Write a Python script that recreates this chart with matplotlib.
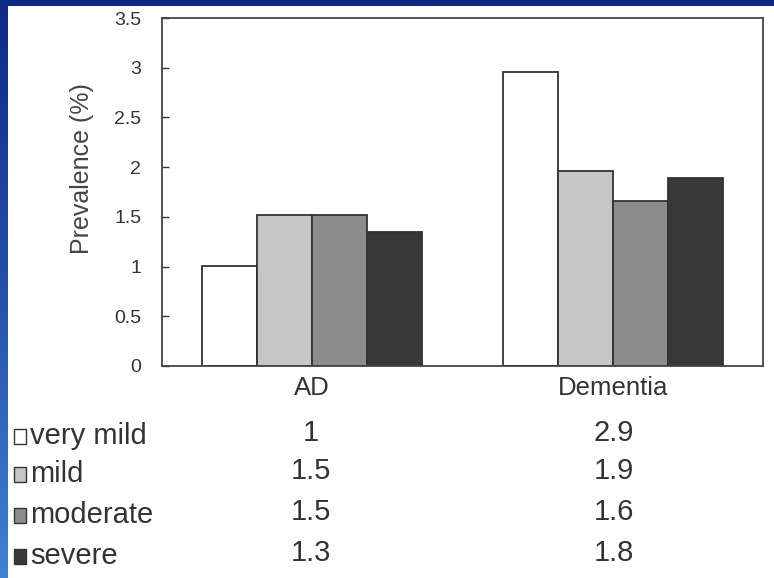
import numpy as np
import matplotlib
matplotlib.use("Agg")
import matplotlib.pyplot as plt
from matplotlib.patches import Rectangle
from matplotlib.colors import LinearSegmentedColormap

plt.rcParams['font.family'] = ['Liberation Sans', 'DejaVu Sans']

# data
groups = ['AD', 'Dementia']
severity = ['very mild', 'mild', 'moderate', 'severe']
# bar heights
ad_bars = [1.01, 1.52, 1.52, 1.35]
dem_bars = [2.96, 1.96, 1.66, 1.89]
# values printed in the table below the chart
ad_table = ['1', '1.5', '1.5', '1.3']
dem_table = ['2.9', '1.9', '1.6', '1.8']
yticks = [0, 0.5, 1, 1.5, 2, 2.5, 3, 3.5]
ytick_labels = ['0', '0.5', '1', '1.5', '2', '2.5', '3', '3.5']

fills = ['white', '#c6c6c6', '#8c8c8c', '#383838']

W, H = 774, 578
fig = plt.figure(figsize=(W / 100, H / 100), dpi=100)

# slide background: blue gradient frame, white page
bg = fig.add_axes([0, 0, 1, 1], zorder=-10)
cmap = LinearSegmentedColormap.from_list('slide', ['#0e2a84', '#2452a8', '#3f82d2'])
bg.imshow(np.linspace(0, 1, 256).reshape(-1, 1), aspect='auto', cmap=cmap,
          extent=[0, 1, 0, 1], origin='upper')
bg.add_patch(Rectangle((8 / W, 0), 1, 1 - 6 / H, facecolor='white', edgecolor='none'))
bg.set_xlim(0, 1)
bg.set_ylim(0, 1)
bg.axis('off')

ax = fig.add_axes([162 / W, 1 - 366 / H, (763 - 162) / W, (366 - 18) / H])
ax.set_facecolor('white')

x = np.arange(len(groups))
width = 0.183
for i, name in enumerate(severity):
    vals = [ad_bars[i], dem_bars[i]]
    ax.bar(x + (i - 1.5) * width, vals, width, color=fills[i],
           edgecolor='#333333', linewidth=1.3, label=name)

ax.set_xlim(-0.5, 1.5)
ax.set_ylim(0, 3.5)
ax.set_yticks(yticks)
ax.set_yticklabels(ytick_labels)
ax.tick_params(axis='y', direction='in', length=5, width=1, pad=15,
               labelsize=14, colors='#333333')
ax.set_xticks(x)
ax.set_xticklabels(groups)
ax.tick_params(axis='x', length=0, pad=7, labelsize=18.5, colors='#333333')
for sp in ax.spines.values():
    sp.set_color('#444444')
    sp.set_linewidth(1.3)
ax.set_ylabel('Prevalence (%)', fontsize=18, color='#444444')
ax.yaxis.set_label_coords(-0.113, 0.566)

# data table under the chart
row_y = [436, 474, 515, 556]
for i, name in enumerate(severity):
    yf = 1 - row_y[i] / H
    fig.patches.append(Rectangle((14 / W, yf - 8 / H), 12 / W, 15 / H,
                                 transform=fig.transFigure, facecolor=fills[i],
                                 edgecolor='#333333', linewidth=1.0))
    fig.text(30 / W, yf, name, fontsize=21, color='#333333', va='center', ha='left')
    fig.text(311 / W, yf + 3 / H, ad_table[i], fontsize=21, color='#333333',
             va='center', ha='center')
    fig.text(614 / W, yf + 3 / H, dem_table[i], fontsize=21, color='#333333',
             va='center', ha='center')

fig.savefig('out.png', dpi=100)
